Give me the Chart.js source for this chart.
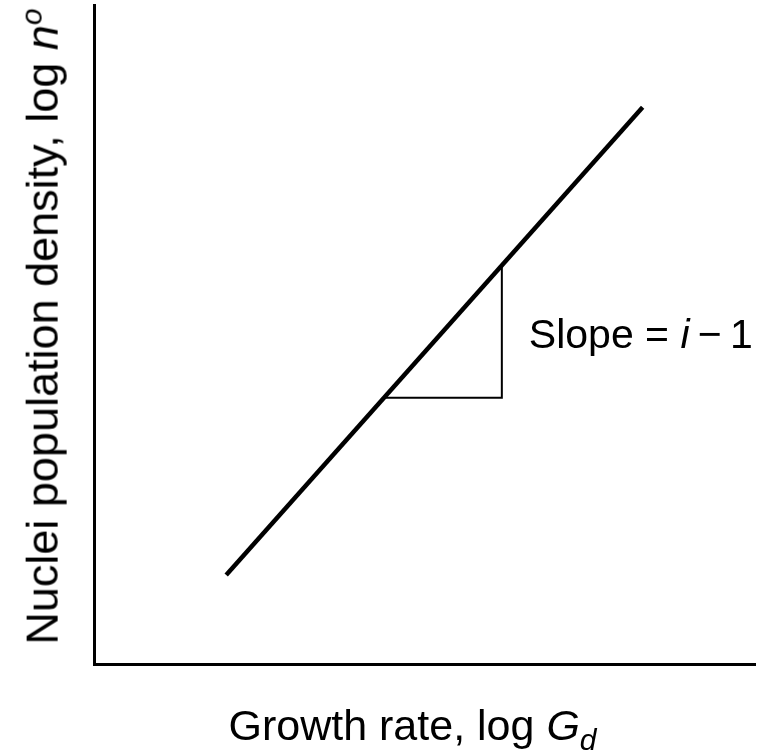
<!DOCTYPE html>
<html>
<head>
<meta charset="utf-8">
<script src="https://cdn.jsdelivr.net/npm/chart.js@4"></script>
<style>
  html, body { margin: 0; padding: 0; background: #fff; }
  #wrap { position: relative; width: 768px; height: 754px; }
  .lbl { position: absolute; font-family: "Liberation Sans", Arial, sans-serif; font-size: 42px; color: #000; white-space: nowrap; line-height: 1; }
  .lbl sub { font-size: 30px; vertical-align: -10px; line-height: 0; }
  .lbl sup { font-size: 30px; vertical-align: 16px; line-height: 0; }
  #ylab { font-size: 45px; transform-origin: center center; }
  #xlab { font-size: 43px; }
  #slope { font-size: 41px; }
</style>
</head>
<body>
<div id="wrap">
  <canvas id="chart" width="768" height="754"></canvas>
  <div class="lbl" id="ylab">Nuclei population density, log <i>n</i><sup><i>o</i></sup></div>
  <div class="lbl" id="xlab">Growth rate, log <i>G</i><sub><i>d</i></sub></div>
  <div class="lbl" id="slope">Slope = <i>i</i>&thinsp;&minus;&thinsp;1</div>
</div>
<script>
	/* line of log n° against log Gd, with the slope triangle */
	let line_x = [20, 83],
	line_y = [13.5, 84.5],
	tri_x = [44, 61.7, 61.7],
	tri_y = [40.4, 40.4, 60.4];

	function to_points(xs, ys) {
		return xs.map((x, i) => ({ x: x, y: ys[i] }));
	}

	// place the html labels against the chart area once it is drawn
	let label_plugin = {
		id: 'labels',
		afterRender: function(chart) {
			let area = chart.chartArea;
			let sx = chart.scales.x, sy = chart.scales.y;

			let xlab = document.getElementById('xlab');
			xlab.style.left = ((area.left + area.right) / 2 - 12 - xlab.offsetWidth / 2) + 'px';
			xlab.style.top = (area.bottom + 40) + 'px';

			let ylab = document.getElementById('ylab');
			let cy = (area.top + area.bottom) / 2 - 8;
			ylab.style.left = (42 - ylab.offsetWidth / 2) + 'px';
			ylab.style.top = (cy - ylab.offsetHeight / 2) + 'px';
			ylab.style.transform = 'rotate(-90deg)';

			let slope = document.getElementById('slope');
			let mid = (tri_y[1] + tri_y[2]) / 2;
			slope.style.left = (sx.getPixelForValue(tri_x[2]) + 27) + 'px';
			slope.style.top = (sy.getPixelForValue(mid) + 3 - slope.offsetHeight / 2) + 'px';
		}
	};

	let ctx = document.getElementById('chart').getContext('2d');
	new Chart(ctx, {
		type: 'line',
		data: {
			datasets: [{
				data: to_points(line_x, line_y),
				borderColor: '#000',
				borderWidth: 4.5,
				pointRadius: 0,
				fill: false
			}, {
				data: to_points(tri_x, tri_y),
				borderColor: '#000',
				borderWidth: 2,
				pointRadius: 0,
				fill: false
			}]
		},
		options: {
			responsive: false,
			animation: false,
			devicePixelRatio: 1,
			layout: { padding: { left: 94, top: 5, right: 13, bottom: 90 } },
			plugins: {
				legend: { display: false },
				tooltip: { enabled: false }
			},
			scales: {
				x: {
					type: 'linear', min: 0, max: 100,
					grid: { display: false, drawTicks: false },
					border: { display: true, color: '#000', width: 3 },
					ticks: { display: false }
				},
				y: {
					type: 'linear', min: 0, max: 100,
					grid: { display: false, drawTicks: false },
					border: { display: true, color: '#000', width: 3 },
					ticks: { display: false }
				}
			}
		},
		plugins: [label_plugin]
	});
</script>
</body>
</html>
